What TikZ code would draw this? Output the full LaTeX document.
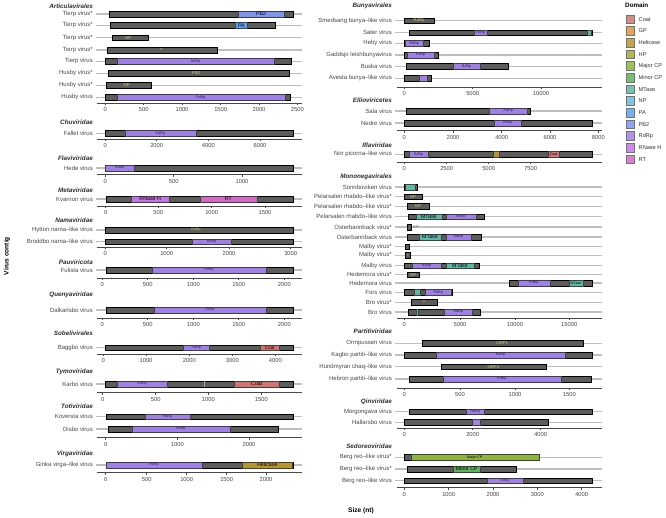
\documentclass[tikz,border=0pt]{standalone}
\usepackage{fontspec}
\setmainfont{Liberation Sans}
\definecolor{cCoat}{HTML}{D4736E}
\definecolor{cGP}{HTML}{DB9440}
\definecolor{cHel}{HTML}{B8962E}
\definecolor{cHP}{HTML}{A6AA3A}
\definecolor{cMaj}{HTML}{8DB43C}
\definecolor{cMin}{HTML}{5DB35A}
\definecolor{cMT}{HTML}{5DB8A6}
\definecolor{cNP}{HTML}{6ABCD9}
\definecolor{cPA}{HTML}{5AA5EC}
\definecolor{cPB}{HTML}{7D95EE}
\definecolor{cRd}{HTML}{A07FE8}
\definecolor{cRN}{HTML}{C474E8}
\definecolor{cRT}{HTML}{D468C8}
\definecolor{ylab}{HTML}{CFCB6E}
\definecolor{rdlab}{HTML}{2B1B5A}
\newcount\nodeid
\newcommand{\Nn}{\global\advance\nodeid by 1\relax}
\tikzset{
  rowlab/.style={anchor=east,text=black!72,font=\fontsize{6}{7}\selectfont,inner sep=0pt},
  ttl/.style={anchor=east,text=black!82,font=\fontsize{6.3}{7}\selectfont\bfseries\itshape,inner sep=0pt},
  gline/.style={draw=black!25,line width=1.1pt},
  barst/.style={fill=black!64,draw=black,line width=0.3pt},
  axl/.style={draw=black!72,line width=0.8pt},
  tickst/.style={draw=black!72,line width=0.5pt},
  ticklab/.style={text=black!72,font=\fontsize{5.8}{6}\selectfont,inner sep=0pt},
  dlr/.style={text=rdlab,font=\fontsize{3.6}{4}\selectfont,inner sep=0pt},
  dlb/.style={text=black,font=\fontsize{5.3}{6}\selectfont,inner sep=0pt},
  dlm/.style={text=black,font=\fontsize{4.6}{5}\selectfont,inner sep=0pt},
  dlcs/.style={text=black,font=\fontsize{3.6}{4}\selectfont,inner sep=0pt},
  dlpb/.style={text=black!85!blue,font=\fontsize{5.2}{6}\selectfont,inner sep=0pt},
  dly/.style={text=ylab,font=\fontsize{4.4}{5}\selectfont,inner sep=0pt},
  dlyr/.style={text=ylab,font=\fontsize{3.6}{4}\selectfont,inner sep=0pt},
  dlg/.style={text=black!60,font=\fontsize{4}{5}\selectfont,inner sep=0pt},
  legt/.style={anchor=west,text=black!80,font=\fontsize{5.6}{6}\selectfont,inner sep=0pt},
  axt/.style={text=black,font=\fontsize{6.6}{7}\selectfont\bfseries,inner sep=0pt}
}
\newcommand{\Lrow}[2]{\draw[gline] (95.5,#1) -- (302,#1); \Nn\node[rowlab] (n\the\nodeid) at (93,#1) {#2};}
\newcommand{\Rrow}[2]{\draw[gline] (395,#1) -- (602,#1); \Nn\node[rowlab] (n\the\nodeid) at (392,#1) {#2};}
\newcommand{\Ttl}[3]{\Nn\node[ttl] (n\the\nodeid) at (#1,#2) {#3};}
\newcommand{\Vb}[3]{\filldraw[barst] (#2,#1-2.8) rectangle (#3,#1+2.8);}
\newcommand{\Dm}[4]{\filldraw[fill=#4,draw=black!75,line width=0.25pt] (#2,#1-2.8) rectangle (#3,#1+2.8);}
\newcommand{\Dt}[4]{\Nn\node[#3] (n\the\nodeid) at (#2,#1) {#4};}
\newcommand{\Lax}[2]{\draw[axl] (96.7,#1) -- (302,#1);
  \foreach \ps/\lb in {#2}{\draw[tickst] (\ps,#1) -- (\ps,#1+2); \Nn\node[ticklab] (n\the\nodeid) at (\ps,#1+6.5) {\lb};}}
\newcommand{\Rax}[2]{\draw[axl] (396.7,#1) -- (602,#1);
  \foreach \ps/\lb in {#2}{\draw[tickst] (\ps,#1) -- (\ps,#1+2); \Nn\node[ticklab] (n\the\nodeid) at (\ps,#1+6.5) {\lb};}}
\begin{document}
\begin{tikzpicture}[x=1pt,y=-1pt]
\useasboundingbox (0,0) rectangle (666,518);
\fill[white] (0,0) rectangle (666,518);
% ---------------- LEFT COLUMN ----------------
\Ttl{93}{6}{Articulavirales}
\Lrow{14}{Tierp virus*} \Vb{14}{109}{293} \Dm{14}{238}{284}{cPB} \Dt{14}{261}{dlpb}{PB2}
\Lrow{25.3}{Tierp virus*} \Vb{25.3}{110}{275.3} \Dm{25.3}{235.3}{247.3}{cPA} \Dt{25.3}{241.3}{dlpb}{PA}
\Lrow{37.7}{Tierp virus*} \Vb{37.7}{111.7}{148.3} \Dt{37.7}{128.3}{dly}{NP}
\Lrow{50}{Tierp virus*} \Vb{50}{107}{216.7} \Dt{50}{161}{dly}{?}
\Lrow{61.3}{Tierp virus} \Vb{61.3}{105.3}{290.7} \Dm{61.3}{116.7}{274.3}{cRd} \Dt{61.3}{195.5}{dlr}{RdRp}
\Lrow{73.3}{Husby virus*} \Vb{73.3}{107.7}{288.7} \Dt{73.3}{196}{dly}{PB2}
\Lrow{85.3}{Husby virus*} \Vb{85.3}{105.7}{150.7} \Dt{85.3}{126.7}{dly}{NP}
\Lrow{97.3}{Husby virus} \Vb{97.3}{105.3}{289.7} \Dm{97.3}{116.7}{285}{cRd} \Dt{97.3}{200.8}{dlr}{RdRp}
\Lax{103.3}{105.3/0,143.7/500,182/1000,220.7/1500,259/2000,297.3/2500}

\Ttl{93}{122.7}{Chuviridae}
\Lrow{133.3}{Fallet virus} \Vb{133.3}{105.3}{293.3} \Dm{133.3}{125}{195.7}{cRd} \Dt{133.3}{160.3}{dlr}{RdRp}
\Lax{139.3}{105.3/0,156.7/2000,208.3/4000,260/6000}

\Ttl{93}{158.3}{Flaviviridae}
\Lrow{168}{Hede virus} \Vb{168}{105.3}{293.3} \Dm{168}{105.3}{134.3}{cRd} \Dt{168}{119.8}{dlr}{RdRp}
\Lax{174.7}{105.3/0,173.7/500,242/1000}

\Ttl{93}{190.3}{Metaviridae}
\Lrow{199}{Kvarnon virus} \Vb{199}{105.7}{293} \Dm{199}{131}{169.3}{cRN} \Dt{199}{150.2}{dlb}{RNase H} \Dm{199}{199.7}{257}{cRT} \Dt{199}{228.3}{dlb}{RT}
\Lax{206}{105.7/0,158.3/500,211.7/1000,265/1500}

\Ttl{93}{220}{Namaviridae}
\Lrow{230}{Hytton nama–like virus} \Vb{230}{105.3}{293.3} \Dt{230}{196}{dlyr}{RdRp}
\Lrow{241.7}{Broddbo nama–like virus} \Vb{241.7}{105.3}{293.3} \Dm{241.7}{192}{231}{cRd} \Dt{241.7}{211.5}{dlr}{RdRp}
\Lax{247}{105.3/0,166.7/1000,229/2000,290.7/3000}

\Ttl{93}{262.7}{Pauviricota}
\Lrow{270}{Fulista virus} \Vb{270}{106}{292.7} \Dm{270}{152}{266}{cRd} \Dt{270}{209}{dlr}{RdRp}
\Lax{278.3}{102.3/0,147.7/500,193.3/1000,238.7/1500,284.3/2000}

\Ttl{93}{295}{Quenyaviridae}
\Lrow{310}{Dalkarlsbo virus} \Vb{310}{105.7}{292.7} \Dm{310}{154}{266}{cRd} \Dt{310}{210}{dlr}{RdRp}
\Lax{318.3}{102.3/0,147.7/500,193.3/1000,238.7/1500,284.3/2000}

\Ttl{93}{333.3}{Sobelivirales}
\Lrow{347.7}{Baggbo virus} \Vb{347.7}{105.3}{293.3} \Dm{347.7}{183.3}{209.3}{cRd} \Dt{347.7}{196.3}{dlr}{RdRp} \Dm{347.7}{260.3}{279.3}{cCoat} \Dt{347.7}{269.8}{dlm}{Coat}
\Lax{354.3}{103.3/0,146/1000,189.3/2000,232.3/3000,275.3/4000}

\Ttl{93}{372.3}{Tymoviridae}
\Lrow{384}{Karbo virus} \Vb{384}{104.7}{293} \Dm{384}{116.7}{167.3}{cRd} \Dt{384}{142}{dlr}{RdRp}
\draw[black!35,line width=0.7pt] (204.3,384-2.6) -- (204.3,384+2.6);
\Dm{384}{234.3}{279.3}{cCoat} \Dt{384}{256.8}{dlb}{Coat}
\Lax{392.7}{102.7/0,155.7/500,208.3/1000,261.3/1500}

\Ttl{93}{406.7}{Totiviridae}
\Lrow{416.7}{Koversta virus} \Vb{416.7}{106}{293} \Dm{416.7}{144.7}{190}{cRd} \Dt{416.7}{167.3}{dlr}{RdRp}
\Lrow{429}{Disbo virus} \Vb{429}{107.7}{277.7} \Dm{429}{131.7}{230}{cRd} \Dt{429}{180.8}{dlr}{RdRp}
\Lax{437.7}{105.7/0,177.3/1000,249/2000}

\Ttl{93}{454}{Virgaviridae}
\Lrow{465}{Ginka virga–like virus} \Vb{465}{105.7}{293} \Dm{465}{105.7}{202.3}{cRd} \Dt{465}{154}{dlr}{RdRp} \Dm{465}{242.3}{292.3}{cHel} \Dt{465}{267.3}{dlb}{Helicase}
\Lax{472.7}{105.7/0,146.7/500,186.7/1000,226.7/1500,266/2000}

% ---------------- RIGHT COLUMN ----------------
\Ttl{392}{5.5}{Bunyavirales}
\Rrow{20.7}{Smedsang bunya–like virus} \Vb{20.7}{404.3}{434} \Dt{20.7}{419}{dly}{RdRp}
\Rrow{32.7}{Sater virus} \Vb{32.7}{409.3}{592} \Dm{32.7}{474}{487.3}{cRd} \Dt{32.7}{480.7}{dlr}{RdRp} \Dm{32.7}{587.3}{590.7}{cMT}
\Rrow{43.3}{Heby virus} \Vb{43.3}{404.3}{428.7} \Dm{43.3}{405.3}{423.3}{cRd} \Dt{43.3}{414.3}{dlr}{RdRp}
\Rrow{55}{Gaddsjo leishbunyavirus} \Vb{55}{404.3}{438.3} \Dm{55}{406.7}{434.3}{cRd} \Dt{55}{420.5}{dlr}{RdRp}
\Rrow{66.3}{Buska virus} \Vb{66.3}{406}{508} \Dm{66.3}{452.7}{480.3}{cRd} \Dt{66.3}{466.5}{dlr}{RdRp}
\Rrow{78.3}{Avesta bunya–like virus} \Vb{78.3}{404.3}{431} \Dm{78.3}{418.7}{427}{cRd}
\Rax{87.3}{404.3/0,472.7/5000,541/10000}

\Ttl{392}{100}{Ellioviricetes}
\Rrow{111}{Sala virus} \Vb{111}{406}{530} \Dm{111}{489}{527.3}{cRd} \Dt{111}{508.2}{dlr}{RdRp}
\Rrow{123}{Nedre virus} \Vb{123}{404.3}{592} \Dm{123}{494}{521.3}{cRd} \Dt{123}{507.7}{dlr}{RdRp}
\Rax{130.7}{404.3/0,453/2000,501.7/4000,550/6000,598.3/8000}

\Ttl{392}{145}{Iflaviridae}
\Rrow{154.3}{Nor picorna–like virus} \Vb{154.3}{404.3}{592.3} \Dm{154.3}{408.7}{428.3}{cRd} \Dt{154.3}{418.5}{dlr}{RdRp} \Dm{154.3}{492.7}{499}{cHel} \Dm{154.3}{548}{559}{cCoat} \Dt{154.3}{553.5}{dlcs}{Coat}
\Rax{162.3}{404.3/0,446.7/2500,488.7/5000,530.7/7500}

\Ttl{392}{177.3}{Mononegavirales}
\Rrow{187}{Sonnboviken virus} \Vb{187}{404.3}{416.7} \Dm{187}{405.3}{415}{cMT}
\Rrow{196.7}{Pelarsalen rhabdo–like virus*} \Vb{196.7}{404.3}{422.3} \Dt{196.7}{413}{dly}{NP}
\Rrow{206.3}{Pelarsalen rhabdo–like virus*} \Vb{206.3}{407}{429.3} \Dt{206.3}{418}{dly}{GP}
\Rrow{216.7}{Pelarsalen rhabdo–like virus} \Vb{216.7}{408}{483.7} \Dm{216.7}{416}{441.7}{cMT} \Dt{216.7}{428.8}{dlb}{MTase} \Dm{216.7}{445.7}{475.7}{cRd} \Dt{216.7}{460.7}{dlr}{RdRp}
\Rrow{227}{Osterbannback virus*} \Vb{227}{407}{411.3} \Dt{227}{415.8}{dlg}{GP}
\Rrow{237}{Osterbannback virus} \Vb{237}{407}{480.7} \Dm{237}{418.7}{441.3}{cMT} \Dt{237}{430}{dlb}{MTase} \Dm{237}{445.7}{471}{cRd} \Dt{237}{458.3}{dlr}{RdRp}
\Rrow{246.7}{Malby virus*} \Vb{246.7}{405}{409.3}
\Rrow{255.3}{Malby virus*} \Vb{255.3}{405.3}{410} \Dt{255.3}{407.7}{dlyr}{?}
\Rrow{265.7}{Malby virus} \Vb{265.7}{404.3}{479} \Dm{265.7}{412}{441}{cRd} \Dt{265.7}{426.5}{dlr}{RdRp} \Dm{265.7}{445.7}{474.3}{cMT} \Dt{265.7}{460}{dlb}{MTase}
\Rrow{274.7}{Hedemora virus*} \Vb{274.7}{407.3}{419.3} \Dt{274.7}{413.3}{dly}{NP}
\Rrow{283}{Hedemora virus} \Vb{283}{509.3}{592.3} \Dm{283}{517.7}{550}{cRd} \Dt{283}{533.8}{dlr}{RdRp} \Dm{283}{569.3}{582.7}{cMT} \Dt{283}{576}{dlcs}{MTase}
\Rrow{292.3}{Fors virus} \Vb{292.3}{404.3}{451.7} \Dm{292.3}{414}{420}{cMT} \Dm{292.3}{425.3}{451}{cRd} \Dt{292.3}{438.2}{dlr}{RdRp}
\Rrow{302.3}{Bro virus*} \Vb{302.3}{411}{436.7} \Dt{302.3}{423.8}{dly}{?}
\Rrow{312}{Bro virus} \Vb{312}{408.3}{480.3} \Dm{312}{415.7}{418.3}{cMT} \Dm{312}{444}{472.3}{cRd} \Dt{312}{458.2}{dlr}{RdRp}
\Rax{318.3}{404.3/0,460/5000,515/10000,569.3/15000}

\Ttl{392}{331.7}{Partitiviridae}
\Rrow{343.3}{Ormpussen virus} \Vb{343.3}{421.7}{582.7} \Dt{343.3}{502.2}{dly}{ORF1}
\Rrow{355}{Kagbo partiti–like virus} \Vb{355}{404.3}{592} \Dm{355}{436}{565}{cRd} \Dt{355}{500.5}{dlr}{RdRp}
\Rrow{366.7}{Hundmyran chaq–like virus} \Vb{366.7}{441.3}{545.7} \Dt{366.7}{493.5}{dly}{ORF1}
\Rrow{379}{Hebron partiti–like virus} \Vb{379}{409.3}{591} \Dm{379}{442.7}{561}{cRd} \Dt{379}{501.8}{dlr}{RdRp}
\Rax{388.3}{404.3/0,460/500,515/1000,569.3/1500}

\Ttl{392}{401.7}{Qinviridae}
\Rrow{411.7}{Morgongava virus} \Vb{411.7}{409}{592} \Dm{411.7}{466}{484.3}{cRd} \Dt{411.7}{475.2}{dlr}{RdRp}
\Rrow{422.3}{Hallarsbo virus} \Vb{422.3}{404.3}{548.3} \Dm{422.3}{472.3}{480}{cRd}
\Rax{428.3}{404.3/0,472.7/2000,540.7/4000}

\Ttl{392}{446.7}{Sedoreoviridae}
\Rrow{457.3}{Berg reo–like virus*} \Vb{457.3}{404.3}{539.3} \Dm{457.3}{410.7}{538.7}{cMaj} \Dt{457.3}{474.7}{dlcs}{Major CP}
\Rrow{469}{Berg reo–like virus*} \Vb{469}{407}{516} \Dm{469}{453.3}{480}{cMin} \Dt{469}{466.7}{dlb}{Minor CP}
\Rrow{480.7}{Berg reo–like virus} \Vb{480.7}{404.3}{592.3} \Dm{480.7}{486.7}{523.3}{cRd} \Dt{480.7}{505}{dlr}{RdRp}
\Rax{487.7}{404.3/0,448.7/1000,493/2000,537.3/3000,581.7/4000}

% axis titles
\Nn\node[axt] (n\the\nodeid) at (361,510.5) {Size (nt)};
\Nn\node[axt,rotate=90] (n\the\nodeid) at (7,256) {Virus contig};

% legend
\Nn\node[anchor=west,text=black,font=\fontsize{6.3}{7}\selectfont\bfseries,inner sep=0pt] (n\the\nodeid) at (625,5.5) {Domain};
\foreach \cc/\nm [count=\i from 0] in {cCoat/Coat,cGP/GP,cHel/Helicase,cHP/HP,cMaj/Major CP,cMin/Minor CP,cMT/MTase,cNP/NP,cPA/PA,cPB/PB2,cRd/RdRp,cRN/RNase H,cRT/RT}{
  \filldraw[fill=\cc!85!white,draw=black!55,line width=0.35pt] (626,19.3+11.65*\i-4.3) rectangle (634.6,19.3+11.65*\i+4.3);
  \Nn\node[legt] (n\the\nodeid) at (638.5,19.3+11.65*\i) {\nm};
}
\end{tikzpicture}
\end{document}
